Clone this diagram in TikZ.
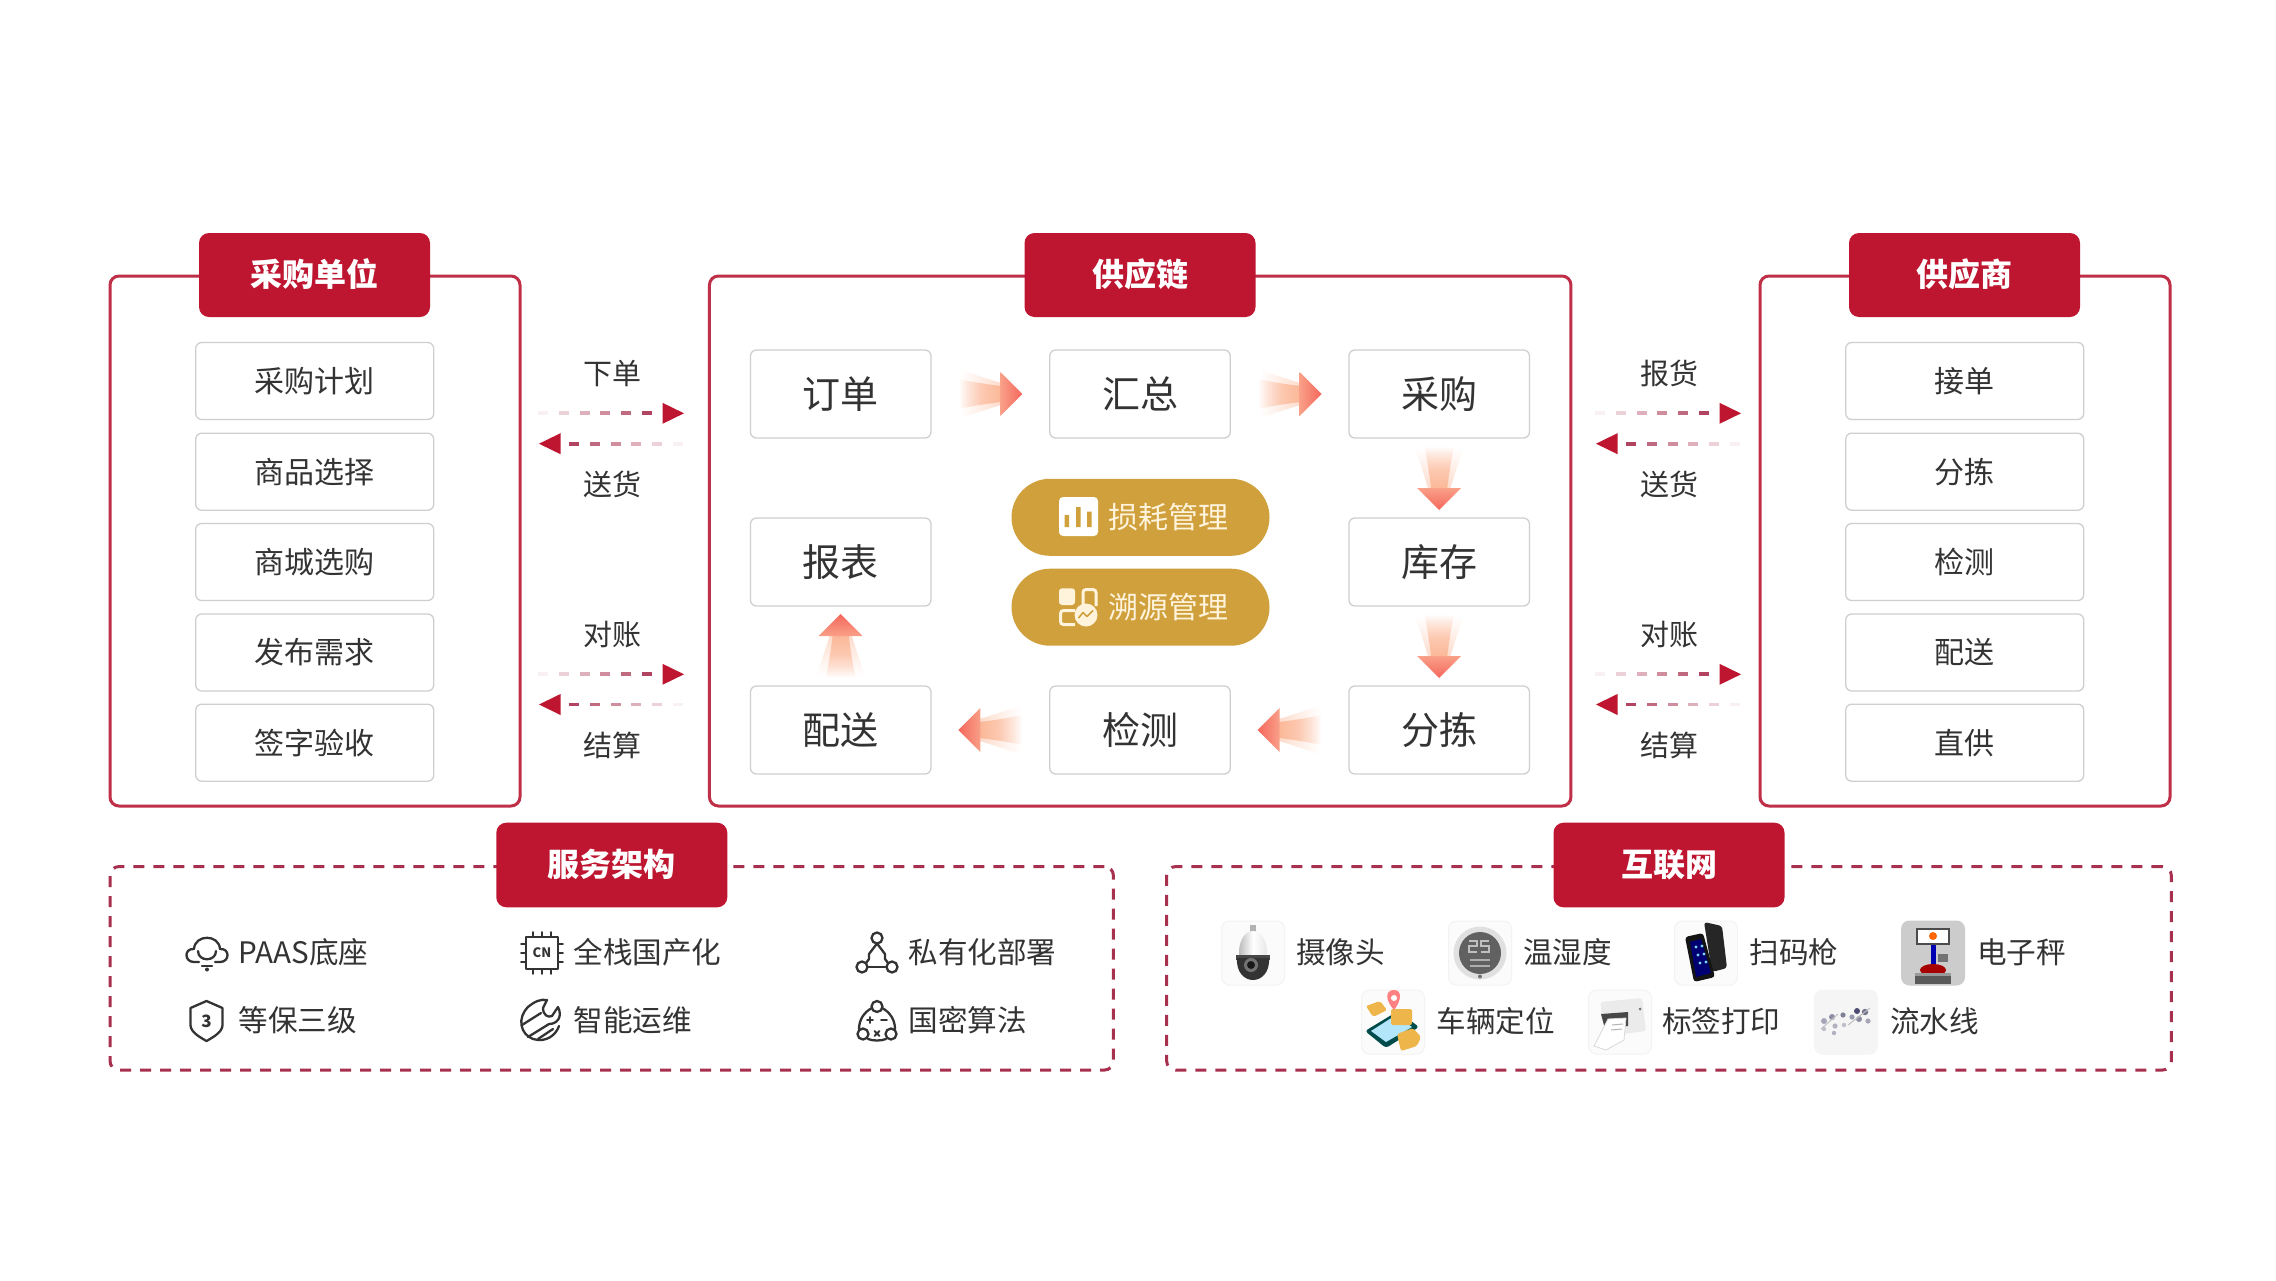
\documentclass[tikz,border=0pt]{standalone}
\usepackage{fontspec}
\setmainfont{Noto Sans CJK SC}
\usetikzlibrary{calc}
\definecolor{brand}{HTML}{BE1630}
\definecolor{panelline}{HTML}{BF2F48}
\definecolor{dashline}{HTML}{A8304F}
\definecolor{boxline}{HTML}{CFCFCF}
\definecolor{ink}{HTML}{333333}
\definecolor{gold}{HTML}{CFA03C}
\definecolor{goldtext}{HTML}{FFF3DC}
\definecolor{headhi}{HTML}{F9A088}
\definecolor{headlo}{HTML}{F4675C}
\definecolor{peach}{HTML}{FBB797}
\definecolor{linkdash}{HTML}{A8304F}
\definecolor{tilebg}{HTML}{FBFBFB}
\definecolor{tileline}{HTML}{F3F3F3}
\definecolor{boxgold}{HTML}{EDB54A}
\pgfdeclarehorizontalshading{flareglow}{100bp}{color(0bp)=(white); color(25bp)=(white); color(40bp)=(peach!14!white); color(75bp)=(peach!50!white); color(100bp)=(peach!50!white)}
\pgfdeclarehorizontalshading{flarecore}{100bp}{color(0bp)=(white); color(25bp)=(white); color(36bp)=(peach!35!white); color(52bp)=(peach!75!white); color(75bp)=(peach); color(100bp)=(peach)}
\pgfdeclarehorizontalshading{flarehead}{100bp}{color(0bp)=(headhi); color(25bp)=(headhi); color(75bp)=(headlo); color(100bp)=(headlo)}
\tikzset{
  fs/.style={font=\fontsize{#1}{#1}\selectfont,text height=.88*#1 pt,text depth=.12*#1 pt,inner sep=0pt,outer sep=0pt},
  panel/.style={draw=panelline,line width=3pt,rounded corners=9pt,fill=white,inner sep=0pt,minimum width=#1},
  dashpanel/.style={draw=dashline,line width=3pt,rounded corners=9pt,dash pattern=on 11pt off 9pt,inner sep=0pt,minimum width=#1,minimum height=203.5pt},
  tag/.style={fill=brand,rounded corners=10pt,minimum width=231pt,text=white,fs=32,font=\fontsize{32}{32}\selectfont\bfseries,text depth=6pt},
  itembox/.style={draw=boxline,line width=1.3pt,rounded corners=6pt,fill=white,minimum width=238pt,minimum height=77pt,fs=30,text=ink},
  stagebox/.style={draw=boxline,line width=1.3pt,rounded corners=6pt,fill=white,minimum width=180.5pt,minimum height=88pt,fs=38,text=ink},
  pill/.style={fill=gold,rounded corners=38.5pt,minimum width=258pt,minimum height=77pt},
  pilltext/.style={fs=30,text=goldtext,anchor=west},
  linklabel/.style={fs=29,text=ink},
  svc/.style={fs=29.6,text=ink,anchor=west,text depth=5.4pt},
  tile/.style={fill=tilebg,draw=tileline,line width=1pt,rounded corners=8pt,minimum width=63pt,minimum height=64pt,inner sep=0pt},
  icon/.style={draw=ink,line width=2.3pt,line cap=round,line join=round},
}
% gradient block arrow half way between two nodes
\newcommand\flowarrow[3]{%
  \coordinate (mid) at ($(#1)!.5!(#2)$);
  \begin{scope}[shift={(mid)},rotate=#3]
    \shade[shading=flareglow,shading angle=#3] (-30,-24) .. controls (-14,-19) and (3,-13) .. (11,-11) -- (11,11) .. controls (3,13) and (-14,19) .. (-30,24) -- cycle;
    \shade[shading=flarecore,shading angle=#3] (-32,-15) .. controls (-14,-11) and (3,-9) .. (11,-8) -- (11,8) .. controls (3,9) and (-14,11) .. (-32,15) -- cycle;
    \shade[shading=flarehead,shading angle=#3] (10,-22) -- (32,0) -- (10,22) -- cycle;
  \end{scope}}
% fading dashed arrow between two named coordinates
\newcommand\dashlink[2]{%
  \foreach \d/\p in {1/7,22/22,43/38,63/55,84/72,105/90}{
    \draw[line width=3.8pt,linkdash!\p!white] ($(#1)!\d pt!(#2)$) -- ($(#1)!\d pt+10pt!(#2)$);
  }
  \fill[brand] ($(#2)!21.5pt!(#1)!10.5pt!90:(#2)$) -- (#2) -- ($(#2)!21.5pt!(#1)!10.5pt!-90:(#2)$) -- cycle;}
\begin{document}
\begin{tikzpicture}[x=1pt,y=-1pt]
\useasboundingbox (0,0) rectangle (2276,1280);
\fill[white] (0,0) rectangle (2276,1280);

% --- panels
\node[panel=410pt,minimum height=530pt] (buyerpanel) at (315,541) {};
\node[panel=861.5pt,minimum height=530pt] (chainpanel) at (1140.2,541) {};
\node[panel=410pt,minimum height=530pt] (supplierpanel) at (1965,541) {};
\node[tag,minimum height=84pt] (buyertag) at (314.5,275) {采购单位};
\node[tag,minimum height=84pt] (chaintag) at (1140,275) {供应链};
\node[tag,minimum height=84pt] (suppliertag) at (1964.5,275) {供应商};

% --- buyer column
\node[itembox] (b1) at (314.7,381) {采购计划};
\node[itembox] (b2) at (314.7,471.7) {商品选择};
\node[itembox] (b3) at (314.7,562) {商城选购};
\node[itembox] (b4) at (314.7,652.5) {发布需求};
\node[itembox] (b5) at (314.7,742.7) {签字验收};

% --- supplier column
\node[itembox] (s1) at (1964.7,381) {接单};
\node[itembox] (s2) at (1964.7,471.7) {分拣};
\node[itembox] (s3) at (1964.7,562) {检测};
\node[itembox] (s4) at (1964.7,652.5) {配送};
\node[itembox] (s5) at (1964.7,742.7) {直供};

% --- supply chain stages
\node[stagebox] (order) at (840.7,394) {订单};
\node[stagebox] (merge) at (1140,394) {汇总};
\node[stagebox] (purchase) at (1439.2,394) {采购};
\node[stagebox] (report) at (840.7,562) {报表};
\node[stagebox] (stock) at (1439.2,562) {库存};
\node[stagebox] (deliver) at (840.7,730) {配送};
\node[stagebox] (check) at (1140,730) {检测};
\node[stagebox] (sort) at (1439.2,730) {分拣};

\flowarrow{order}{merge}{0}
\flowarrow{merge}{purchase}{0}
\flowarrow{purchase}{stock}{-90}
\flowarrow{stock}{sort}{-90}
\flowarrow{sort}{check}{180}
\flowarrow{check}{deliver}{180}
\flowarrow{deliver}{report}{90}

% --- centre pills
\node[pill] (loss) at (1140.5,517.3) {};
\node[pill] (trace) at (1140.5,607.2) {};
\node[pilltext] (losstext) at (1108,516.7) {损耗管理};
\node[pilltext] (tracetext) at (1108,606.7) {溯源管理};
\fill[white,rounded corners=4pt] (1059,497) rectangle (1098,536);
\fill[gold] (1064.5,515) rectangle (1069,527) (1076,507) rectangle (1080.5,527) (1087,511.5) rectangle (1091.5,527);
\fill[goldtext,rounded corners=3pt] (1059,588.3) rectangle (1075,605);
\draw[goldtext,line width=3pt,rounded corners=3pt] (1083,606) -- (1083,589.5) -- (1096,589.5) -- (1096,606);
\draw[goldtext,line width=3pt,rounded corners=3pt] (1075,610.5) -- (1060.5,610.5) -- (1060.5,624.5) -- (1075,624.5);
\fill[goldtext] (1086,615) circle (11.5);
\draw[gold,line width=1.6pt,line join=round] (1078.5,618) -- (1083,612.5) -- (1087,616.5) -- (1093,610.5);

% --- left links
\coordinate (l1a) at (537,413.3);   \coordinate (l1b) at (684,413.3);
\coordinate (l2a) at (684,443.7);   \coordinate (l2b) at (539,443.7);
\coordinate (l3a) at (537,674.3);   \coordinate (l3b) at (684,674.3);
\coordinate (l4a) at (684,704.5);   \coordinate (l4b) at (539,704.5);
\dashlink{l1a}{l1b}\dashlink{l2a}{l2b}\dashlink{l3a}{l3b}\dashlink{l4a}{l4b}
\node[linklabel] (ll1) at (612.5,373) {下单};
\node[linklabel] (ll2) at (612.5,484) {送货};
\node[linklabel] (ll3) at (612.5,634) {对账};
\node[linklabel] (ll4) at (612.5,745) {结算};

% --- right links
\coordinate (r1a) at (1594,413.3);  \coordinate (r1b) at (1741,413.3);
\coordinate (r2a) at (1741,443.7);  \coordinate (r2b) at (1596,443.7);
\coordinate (r3a) at (1594,674.3);  \coordinate (r3b) at (1741,674.3);
\coordinate (r4a) at (1741,704.5);  \coordinate (r4b) at (1596,704.5);
\dashlink{r1a}{r1b}\dashlink{r2a}{r2b}\dashlink{r3a}{r3b}\dashlink{r4a}{r4b}
\node[linklabel] (rl1) at (1669,373) {报货};
\node[linklabel] (rl2) at (1669,484) {送货};
\node[linklabel] (rl3) at (1669,634) {对账};
\node[linklabel] (rl4) at (1669,745) {结算};

% --- dashed panels
\node[dashpanel=1003.4pt] (archpanel) at (611.7,968.3) {};
\node[dashpanel=1004.7pt] (iotpanel) at (1669,968.3) {};
\node[tag,minimum height=84.6pt] (archtag) at (611.8,865) {服务架构};
\node[tag,minimum height=84.6pt] (iottag) at (1669,865) {互联网};

% --- service items
\node[svc] (a1) at (238.5,953) {PAAS底座};
\node[svc] (a2) at (573.5,953) {全栈国产化};
\node[svc] (a3) at (908.5,953) {私有化部署};
\node[svc] (a4) at (238.5,1021) {等保三级};
\node[svc] (a5) at (573.5,1021) {智能运维};
\node[svc] (a6) at (908.5,1021) {国密算法};

% cloud
\begin{scope}[shift={(207,953)},icon]
  \draw (-8,9) -- (-13,9) .. controls (-23,9) and (-23,-5) .. (-13,-4) .. controls (-12,-19) and (12,-19) .. (13,-4) .. controls (23,-5) and (23,9) .. (13,9) -- (8,9);
  \draw (-9,-2) .. controls (-9,9) and (9,9) .. (9,-2);
  \draw (-5,13) -- (5,13);
  \fill[ink] (0,16.5) circle (2);
\end{scope}
% shield
\begin{scope}[shift={(206.5,1021)},icon]
  \draw (0,-20) -- (16,-13) -- (16,4) .. controls (16,11) and (7,16) .. (0,20) .. controls (-7,16) and (-16,11) .. (-16,4) -- (-16,-13) -- cycle;
  \node[draw=none,font=\fontsize{17}{17}\selectfont\bfseries,text=ink,inner sep=0pt] (shieldnum) at (0,0) {3};
\end{scope}
% chip
\begin{scope}[shift={(542,953)},icon]
  \draw (-16,-16) rectangle (16,16);
  \foreach \k in {-9,0,9}{
    \draw[line width=1.8pt] (\k,-16) -- (\k,-21) (\k,16) -- (\k,21) (-16,\k) -- (-21,\k) (16,\k) -- (21,\k);
  }
  \node[draw=none,font=\fontsize{13}{13}\selectfont\bfseries,text=ink,inner sep=0pt] (chipcn) at (0,0) {CN};
\end{scope}
% wrench in globe
\begin{scope}[shift={(542,1020)},icon]
  \draw (-14,-13) .. controls (-7,-19) and (-1,-21) .. (5,-20) -- (1,-12) .. controls (1,-5) and (6,-2) .. (10,-4) -- (16,-13) .. controls (21,-3) and (15,4) .. (7,4) -- (-14,17);
  \draw (-14,-13) .. controls (-25,-2) and (-22,14) .. (-9,19) .. controls (4,23) and (14,15) .. (17,6);
  \draw (-20,5) -- (-1,-7);
  \draw (-4,19) -- (11,9);
\end{scope}
% network
\begin{scope}[shift={(877,953)},icon]
  \draw (0,-15) circle (5.5) (-15,14) circle (5.5) (15,14) circle (5.5);
  \draw (0,-9.5) -- (-8,1) -- (-8,6) -- (-11,10);
  \draw (0,-9.5) -- (8,1) -- (8,6) -- (11,10);
  \draw (-9.5,14) -- (9.5,14);
\end{scope}
% crypto
\begin{scope}[shift={(877,1021)},icon]
  \draw (0,-14.5) circle (5.5) (-14,13) circle (5.5) (14,13) circle (5.5);
  \draw (-5,-13) .. controls (-13,-9) and (-18,-1) .. (-18,8);
  \draw (5,-13) .. controls (13,-9) and (18,-1) .. (18,8);
  \draw (-9,18) .. controls (-4,20) and (4,20) .. (9,18);
  \draw[line width=1.9pt] (-10,-1) -- (-4,-1) (-7,-4) -- (-7,2) (4,-1) -- (10,-1);
  \draw[line width=1.9pt] (-2.5,10) -- (2.5,15) (2.5,10) -- (-2.5,15);
\end{scope}

% --- IoT tiles and labels
\node[tile] (t1) at (1253,953) {};
\node[tile] (t2) at (1480,953) {};
\node[tile] (t3) at (1706,953) {};
\node[tile,fill=black!20,draw=black!20] (t4) at (1933,953) {};
\node[tile] (t5) at (1393,1022) {};
\node[tile] (t6) at (1620,1022) {};
\node[tile,fill=blue!4!black!4,draw=blue!4!black!4] (t7) at (1846,1022) {};
\node[svc] (i1) at (1296,953) {摄像头};
\node[svc] (i2) at (1523,953) {温湿度};
\node[svc] (i3) at (1749.5,953) {扫码枪};
\node[svc] (i4) at (1977,953) {电子秤};
\node[svc] (i5) at (1436.5,1022) {车辆定位};
\node[svc] (i6) at (1662,1022) {标签打印};
\node[svc] (i7) at (1890,1022) {流水线};

% camera
\begin{scope}[shift={(1253,953)}]
  \fill[black!30] (-3,-28) rectangle (3,-20);
  \shade[left color=black!28,right color=black!10,middle color=white] (-14,3) .. controls (-15,-12) and (-8,-22) .. (0,-22) .. controls (8,-22) and (15,-12) .. (14,3) -- cycle;
  \fill[black!72] (-17,2) rectangle (17,7);
  \fill[black!80] (-16,5) .. controls (-17,20) and (-8,27) .. (0,27) .. controls (8,27) and (17,20) .. (16,5) -- cycle;
  \fill[black!55] (-2,12) circle (7);
  \fill[black!90] (-2,12) circle (4);
\end{scope}
% thermometer
\begin{scope}[shift={(1480,953)}]
  \fill[black!12] (0,0) circle (26.5);
  \fill[black!62] (0,0) circle (21);
  \draw[black!25,line width=1.8pt] (-11,-12) -- (-3,-12) -- (-3,-7) -- (-11,-7) -- (-11,-1) -- (-3,-1) (9,-12) -- (1,-12) -- (1,-7) -- (9,-7) -- (9,-1) -- (1,-1);
  \draw[black!32,line width=1.6pt] (-10,7) -- (10,7) (-10,13) -- (10,13);
  \fill[black!55] (0,23.5) circle (2);
\end{scope}
% scanner
\begin{scope}[shift={(1706,953)}]
  \fill[black!85,rounded corners=3pt] (-2,-31) -- (16,-27) -- (21,15) -- (6,19) -- cycle;
  \fill[black!92,rounded corners=3pt] (-21,-16) -- (-3,-20) -- (9,24) -- (-12,29) -- cycle;
  \fill[blue!45!black] (-16,-11) -- (-5,-14) -- (5,20) -- (-10,24) -- cycle;
  \foreach \u/\v in {-10/-6,-4/-7,-8/2,-2/1,-6/10,0/9}{
    \fill[cyan!50!white] (\u,\v) circle (1.6);
  }
\end{scope}
% electronic scale
\begin{scope}[shift={(1933,953)}]
  \fill[black!70] (-17,-25) rectangle (17,-8);
  \fill[white] (-15,-23) rectangle (15,-10);
  \fill[orange!80!red] (0,-17) circle (4);
  \fill[blue!70!black] (-2.5,-8) rectangle (2.5,14);
  \fill[black!55] (5,1) rectangle (15,9);
  \fill[red!65!black] (0,17) ellipse (13 and 6);
  \fill[black!65] (-18,20) rectangle (18,31);
  \fill[black!40] (-18,20) rectangle (18,23);
\end{scope}
% vehicle location
\begin{scope}[shift={(1393,1022)}]
  \fill[teal!60!black,rounded corners=3pt] (-28,9) -- (5,-11) -- (26,5) -- (-7,26) -- cycle;
  \fill[cyan!30!white] (-22,9) -- (3,-7) -- (19,5) -- (-7,20) -- cycle;
  \fill[boxgold,rounded corners=2pt] (-27,-16) -- (-13,-21) -- (-6,-12) -- (-20,-5) -- cycle;
  \fill[boxgold,rounded corners=2pt] (-2,-13) rectangle (19,3);
  \fill[boxgold,rounded corners=2pt] (4,12) -- (20,6) -- (28,15) -- (24,24) -- (8,29) -- cycle;
  \fill[red!50!white] (1,-32) .. controls (-8,-32) and (-8,-22) .. (1,-12) .. controls (9,-22) and (9,-32) .. (1,-32) -- cycle;
  \fill[white] (1,-24) circle (3);
\end{scope}
% label printer
\begin{scope}[shift={(1620,1022)}]
  \fill[black!8,rounded corners=3pt] (-20,-20) -- (22,-24) -- (26,9) -- (-14,14) -- cycle;
  \fill[black!72] (-19,-8) -- (8,-10) -- (8,4) -- (-15,7) -- cycle;
  \fill[white,draw=black!15,line width=.8pt] (-12,-3) -- (6,-4) -- (4,18) -- (-14,28) -- (-26,24) -- cycle;
  \draw[black!30,line width=1pt] (-8,3) -- (3,2) (-9,8) -- (2,7);
  \fill[black!55] (20,-13) circle (1.5);
\end{scope}
% assembly line
\begin{scope}[shift={(1846,1022)}]
  \foreach \u/\v/\r/\g in {-22/-1/3/35,-14/-5/3/45,-11/4/2.6/30,-3/-7/2.6/50,-2/3/2.2/25,6/-5/2.6/40,11/-11/3/70,13/-3/3/45,19/-10/3.2/55,22/-1/2.6/35,-12/11/2.2/30,-22/7/2.2/25}{
    \fill[blue!20!black!\g] (\u,\v) circle (\r);
  }
  \draw[black!25,line width=1pt] (-25,7) -- (-8,-8) (2,3) -- (24,-14);
\end{scope}
\end{tikzpicture}
\end{document}
